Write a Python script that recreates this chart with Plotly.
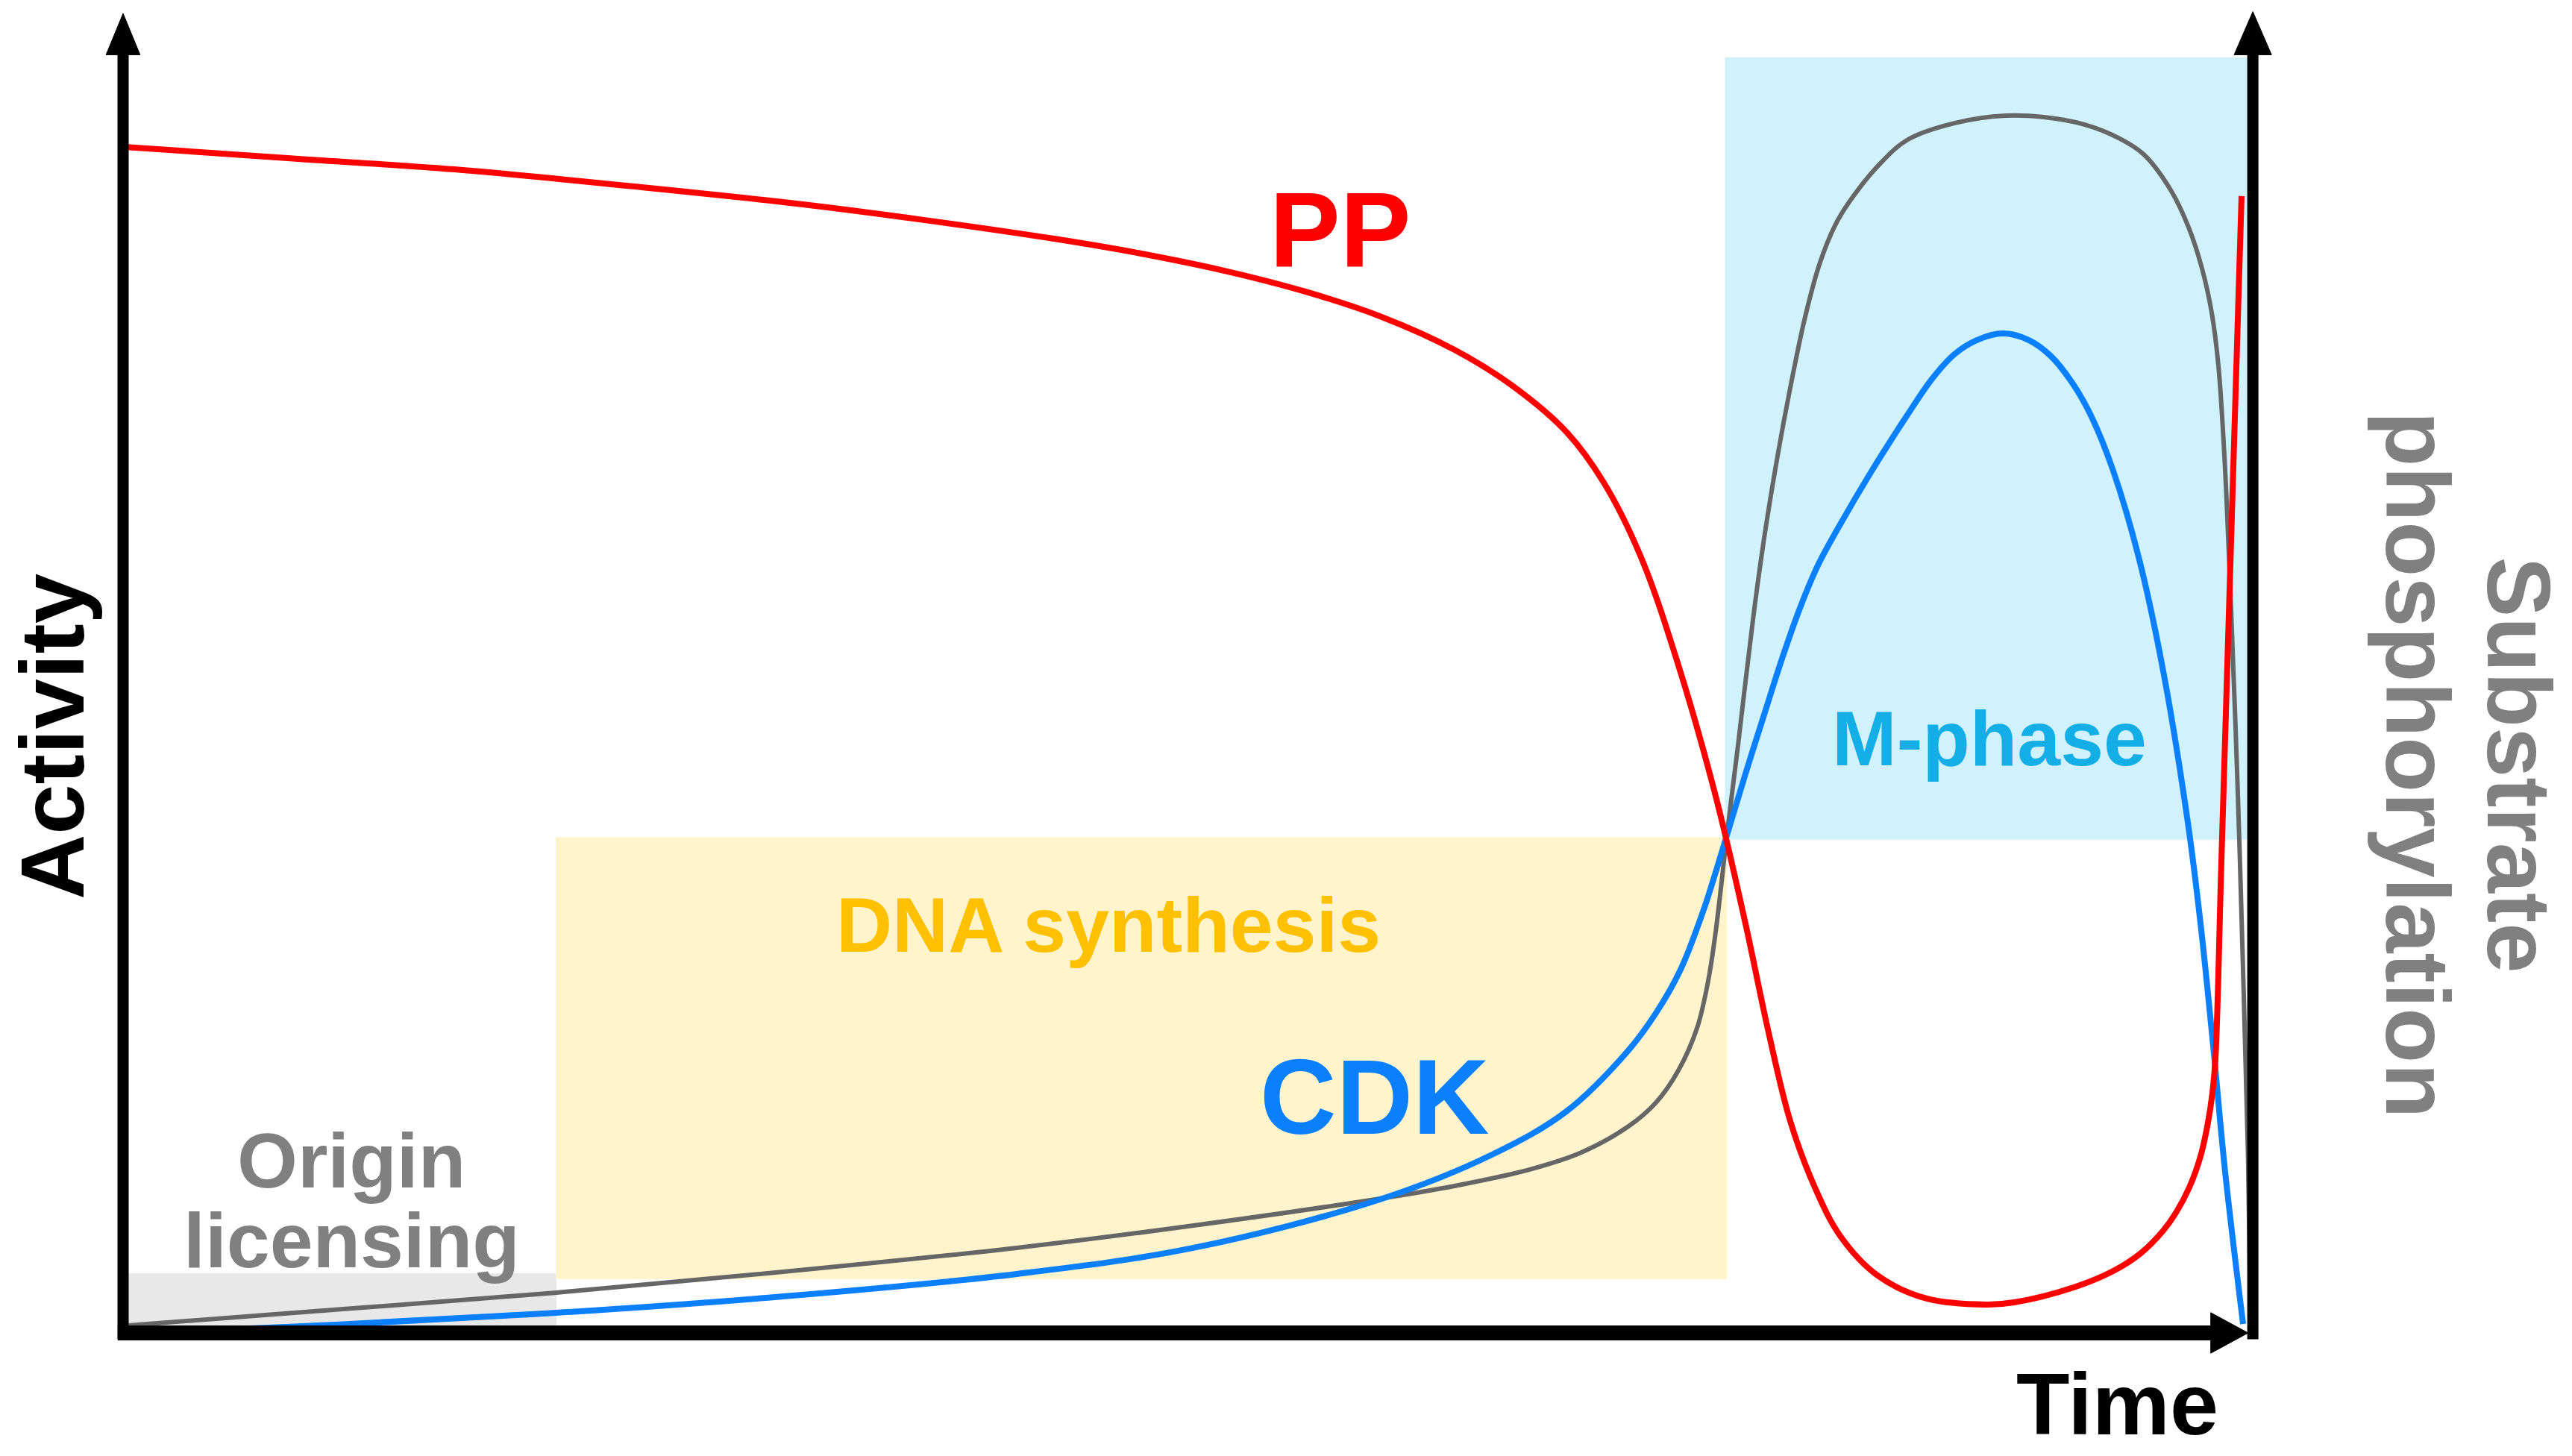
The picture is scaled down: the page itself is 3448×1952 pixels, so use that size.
import plotly.graph_objects as go

# ---- data (time in % of cycle, activity in % of max) ----
pp_time = [0.07, 8.25, 15.58, 23.68, 31.68, 37.72, 43.79, 47.89, 51.82, 55.61, 59.12, 62.63,
           65.44, 67.89, 69.65, 71.40, 73.16, 74.91, 76.32, 77.37, 78.42, 79.58, 80.77, 82.53,
           84.84, 87.65, 88.95, 91.75, 93.61, 94.91, 95.96, 96.56, 97.19, 97.72, 98.07, 98.28,
           98.42, 98.70, 99.12, 99.65]
pp_activity = [93.53, 92.59, 91.76, 90.47, 89.06, 87.76, 86.29, 85.12, 83.76, 82.12, 80.18, 77.53,
               74.59, 71.06, 67.06, 61.18, 52.65, 42.35, 32.24, 23.94, 16.71, 11.47, 7.65, 4.53,
               2.71, 2.24, 2.41, 3.59, 4.88, 6.29, 8.06, 9.47, 11.47, 13.94, 16.59, 18.94,
               21.59, 37.12, 60.41, 89.65]

cdk_time = [0.25, 10.0, 20.39, 31.05, 42.04, 50.35, 59.12, 64.39, 67.89, 70.81, 72.11, 73.26,
            74.32, 75.44, 76.32, 77.26, 78.07, 78.88, 79.72, 80.67, 82.28, 83.89, 85.09, 86.14,
            87.19, 88.42, 89.65, 90.70, 91.75, 92.63, 93.61, 94.81, 95.96, 97.12, 97.72, 98.32,
            98.88, 99.72]
cdk_activity = [0.0, 0.65, 1.59, 2.88, 4.65, 6.71, 10.53, 14.06, 17.47, 22.29, 25.24, 28.65,
                33.24, 39.24, 44.12, 49.12, 53.35, 57.18, 60.53, 63.47, 68.06, 72.29, 75.24, 77.18,
                78.29, 78.82, 78.29, 77.0, 74.76, 72.12, 68.0, 61.18, 52.24, 40.29, 32.29, 22.53,
                12.65, 0.71]

sub_time = [0.25, 10.35, 20.39, 31.05, 42.04, 50.35, 59.12, 62.63, 66.14, 68.60, 70.81, 72.11,
            73.16, 74.04, 74.56, 74.91, 75.44, 75.96, 76.67, 77.19, 77.82, 78.42, 79.12, 79.82,
            80.53, 81.19, 82.63, 83.96, 86.14, 88.56, 90.35, 92.28, 93.86, 95.05, 96.32, 97.16,
            97.79, 98.25, 98.56, 98.84, 99.12, 99.47, 99.75, 99.96, 100.07]
sub_activity = [0.59, 1.88, 3.18, 4.82, 6.71, 8.47, 10.59, 11.59, 12.88, 14.24, 16.29, 18.18,
                20.71, 24.06, 27.76, 31.59, 39.24, 46.29, 56.29, 62.65, 69.12, 74.53, 80.12, 84.41,
                87.35, 89.18, 92.18, 94.12, 95.41, 96.0, 95.88, 95.29, 94.24, 92.94, 90.12, 87.18,
                83.94, 80.41, 76.29, 69.24, 58.65, 42.76, 26.88, 13.35, 0.71]

# phases: name, start, end, low, high
phase_names = ["Origin licensing", "DNA synthesis", "M-phase"]
phase_start = [0.0, 20.35, 75.35]
phase_end = [20.39, 75.44, 100.0]
phase_low = [0.0, 4.24, 38.9]
phase_high = [4.7, 39.1, 100.6]
phase_fill = ["#e8e8e8", "#fff4cc", "#d0f2fc"]

W, H = 3448, 1952
X_RANGE = [-5.7895, 115.193]
Y_RANGE = [-9.7059, 105.118]

fig = go.Figure()

for i in range(len(phase_names)):
    fig.add_shape(type="rect", xref="x", yref="y", x0=phase_start[i], x1=phase_end[i],
                  y0=phase_low[i], y1=phase_high[i], fillcolor=phase_fill[i],
                  line=dict(width=0), layer="below")

SMOOTH = 1.0
fig.add_trace(go.Scatter(x=sub_time, y=sub_activity, mode="lines",
                         line=dict(color="#666666", width=6, shape="spline", smoothing=SMOOTH),
                         hoverinfo="skip"))
fig.add_trace(go.Scatter(x=cdk_time, y=cdk_activity, mode="lines",
                         line=dict(color="#0a80ff", width=8, shape="spline", smoothing=SMOOTH),
                         hoverinfo="skip"))
fig.add_trace(go.Scatter(x=pp_time, y=pp_activity, mode="lines",
                         line=dict(color="#ff0000", width=8, shape="spline", smoothing=SMOOTH),
                         hoverinfo="skip"))

# axes with arrowheads
ax_col = "black"
fig.add_shape(type="line", xref="x", yref="y", x0=0, x1=0, y0=-0.5, y1=101.5,
              line=dict(color=ax_col, width=15), layer="above")
fig.add_shape(type="path", xref="x", yref="y",
              path="M -0.8,100.8 L 0,104.06 L 0.8,100.8 Z",
              fillcolor=ax_col, line=dict(color=ax_col, width=1), layer="above")
fig.add_shape(type="line", xref="x", yref="y", x0=100.18, x1=100.18, y0=-0.5, y1=101.5,
              line=dict(color=ax_col, width=15), layer="above")
fig.add_shape(type="path", xref="x", yref="y",
              path="M 99.3,100.8 L 100.18,104.2 L 101.06,100.8 Z",
              fillcolor=ax_col, line=dict(color=ax_col, width=1), layer="above")
fig.add_shape(type="line", xref="x", yref="y", x0=-0.25, x1=98.6, y0=0, y1=0,
              line=dict(color=ax_col, width=20), layer="above")
fig.add_shape(type="path", xref="x", yref="y",
              path="M 98.2,-1.6 L 99.96,0 L 98.2,1.6 Z",
              fillcolor=ax_col, line=dict(color=ax_col, width=1), layer="above")

FONT = "Liberation Sans, Arial, Helvetica, sans-serif"

def label(text, x, y, size, color, angle=0):
    fig.add_annotation(text=text, x=x, y=y, xref="x", yref="y", showarrow=False,
                       textangle=angle, xanchor="center", yanchor="middle",
                       font=dict(family=FONT, size=size, color=color, weight="bold"))

label("PP", 57.26, 87.0, 142, "#ff0000")
label("CDK", 58.88, 18.6, 142, "#0a80ff")
label("DNA synthesis", 46.35, 32.2, 104, "#ffc000")
label("M-phase", 87.79, 46.9, 104, "#14aee6")
label("Origin", 10.74, 13.6, 104, "#808080")
label("licensing", 10.74, 7.3, 104, "#808080")
label("Activity", -3.33, 47.0, 121, "#000000", angle=-90)
label("Time", 93.79, -5.6, 117, "#000000")
label("Substrate", 112.7, 44.8, 121, "#808080", angle=90)
label("phosphorylation", 107.93, 44.8, 121, "#808080", angle=90)

fig.update_layout(
    width=W, height=H,
    margin=dict(l=0, r=0, t=0, b=0),
    paper_bgcolor="white", plot_bgcolor="white",
    showlegend=False,
    xaxis=dict(range=X_RANGE, visible=False, fixedrange=True),
    yaxis=dict(range=Y_RANGE, visible=False, fixedrange=True),
)

fig.write_html("out.html", config={"displayModeBar": False},
               post_script="document.body.style.margin='0';document.body.style.overflow='hidden';")
